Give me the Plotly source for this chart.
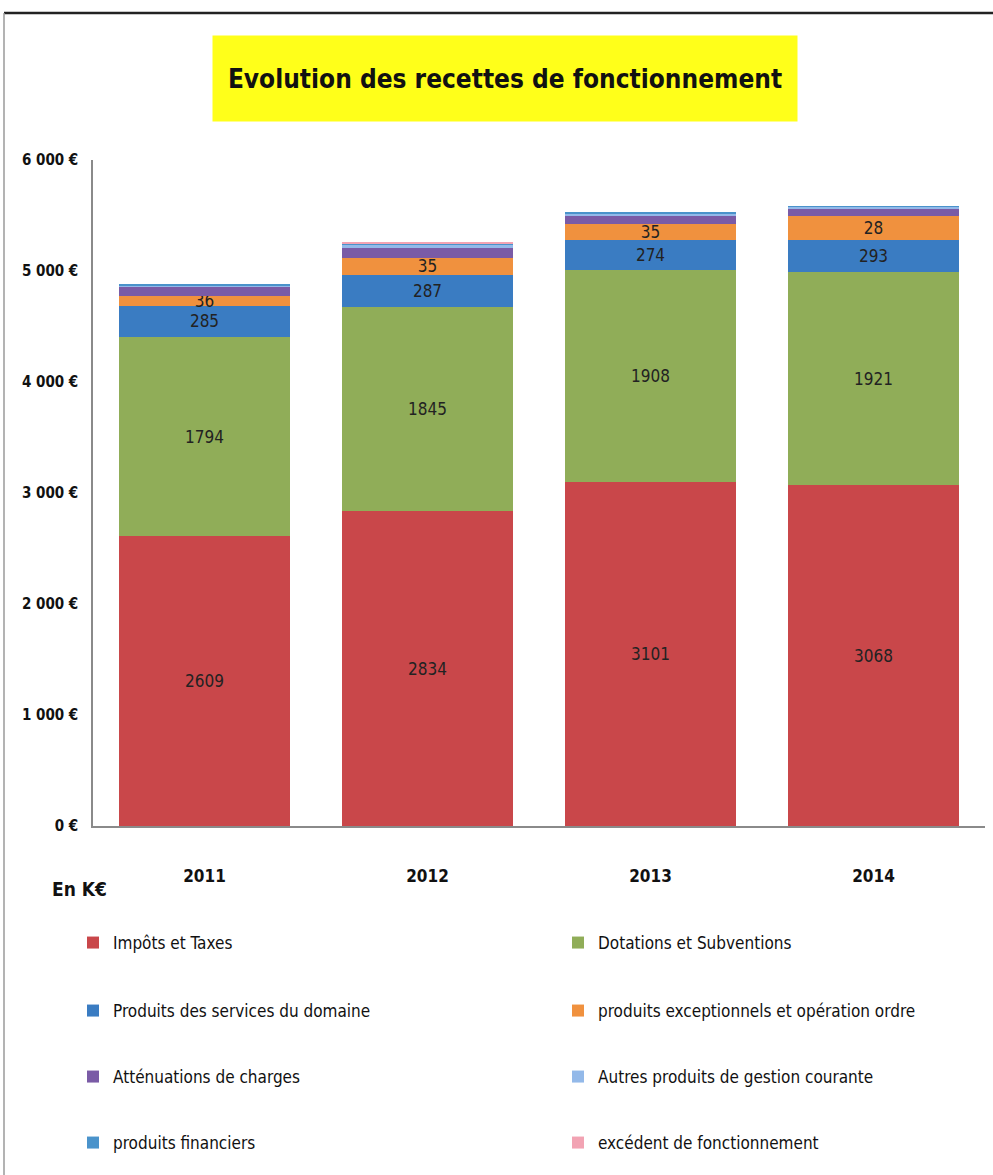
import plotly.graph_objects as go

years = ["2011", "2012", "2013", "2014"]
series_names = [
    "Impôts et Taxes",
    "Dotations et Subventions",
    "Produits des services du domaine",
    "produits exceptionnels et opération ordre",
    "Atténuations de charges",
    "Autres produits de gestion courante",
    "produits financiers",
    "excédent de fonctionnement",
]
impots = [2609, 2834, 3101, 3068]
dotations = [1794, 1845, 1908, 1921]
services = [285, 287, 274, 293]
exceptionnels = [90, 150, 140, 215]
attenuations = [80, 90, 80, 65]
autres = [15, 35, 15, 15]
financiers = [5, 5, 5, 5]
excedent = [0, 15, 0, 0]
small_labels = ["36", "35", "35", "28"]
y_tick_vals = [0, 1000, 2000, 3000, 4000, 5000, 6000]
y_tick_text = ["0 €", "1 000 €", "2 000 €", "3 000 €", "4 000 €", "5 000 €", "6 000 €"]

values = [impots, dotations, services, exceptionnels, attenuations, autres, financiers, excedent]
colors = ["#C9474A", "#90AD58", "#3A7CC2", "#F0913E", "#7A5BA6", "#93B9E9", "#4A93CB", "#F2A3B3"]
labels = [
    [str(v) for v in impots],
    [str(v) for v in dotations],
    [str(v) for v in services],
    small_labels,
    None, None, None, None,
]

FONT = "DejaVu Sans Condensed, Liberation Sans Narrow, sans-serif"

def py(p):
    return (826 - p) / 666.0

def px(p):
    return (p - 93) / 892.0

row_y = [943, 1011, 1077, 1143]
col_text_x = [113, 598]

fig = go.Figure()
legend_cfg = {}
for i, name in enumerate(series_names):
    lname = "legend" if i == 0 else "legend%d" % (i + 1)
    fig.add_trace(go.Bar(
        x=years, y=values[i], name=name,
        marker=dict(color=colors[i], line=dict(width=0)),
        text=labels[i],
        texttemplate="%{text}" if labels[i] else None,
        textposition="inside" if labels[i] else "none",
        insidetextanchor="middle",
        textangle=0,
        constraintext="none",
        textfont=dict(family=FONT, size=17, color="#222222"),
        legend=lname,
    ))
    row, col = i // 2, i % 2
    legend_cfg[lname] = dict(
        orientation="v", xanchor="left", yanchor="middle",
        x=px(col_text_x[col] - 40), y=py(row_y[row]),
        font=dict(family=FONT, size=17, color="#111111"),
        bgcolor="rgba(0,0,0,0)",
    )

fig.update_layout(
    width=993, height=1175,
    margin=dict(l=93, r=8, t=160, b=349),
    paper_bgcolor="white", plot_bgcolor="white",
    barmode="stack", bargap=0.23,
    showlegend=True,
    font=dict(family=FONT, color="#111111"),
    xaxis=dict(
        showline=True, linecolor="#8a8a8a", linewidth=1.5,
        tickfont=dict(family=FONT, size=17, color="#111111", weight="bold"),
        ticks="", showgrid=False, ticklabelstandoff=34,
    ),
    yaxis=dict(
        range=[0, 6000], tickvals=y_tick_vals, ticktext=y_tick_text,
        showline=True, linecolor="#8a8a8a", linewidth=1.5,
        ticks="", ticklabelstandoff=10,
        tickfont=dict(family=FONT, size=15, color="#111111", weight="bold"),
        showgrid=False, zeroline=False,
    ),
    annotations=[
        dict(
            text="<b>Evolution des recettes de fonctionnement</b>",
            xref="paper", yref="paper", x=px(505), y=py(78),
            xanchor="center", yanchor="middle", showarrow=False,
            bgcolor="#FFFF1A", width=584, height=85, borderpad=0,
            font=dict(family=FONT, size=26, color="#111111"),
        ),
        dict(
            text="<b>En K€</b>",
            xref="paper", yref="paper", x=px(50), y=py(889),
            xanchor="left", yanchor="middle", showarrow=False,
            font=dict(family=FONT, size=19, color="#111111"),
        ),
    ],
    shapes=[
        dict(type="line", xref="paper", yref="paper",
             x0=px(4), x1=px(993), y0=py(13), y1=py(13),
             line=dict(color="#222222", width=2.5)),
        dict(type="line", xref="paper", yref="paper",
             x0=px(4), x1=px(4), y0=py(13), y1=py(1175),
             line=dict(color="#9a9a9a", width=1.5)),
    ],
    **legend_cfg,
)

fig.write_html("out.html")
